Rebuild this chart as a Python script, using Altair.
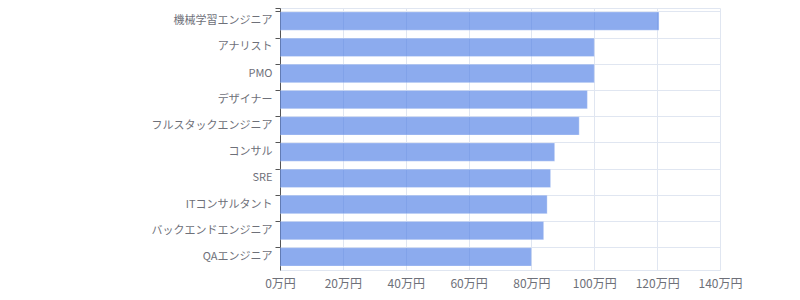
import altair as alt
import pandas as pd

roles = ["機械学習エンジニア", "アナリスト", "PMO", "デザイナー", "フルスタックエンジニア",
         "コンサル", "SRE", "ITコンサルタント", "バックエンドエンジニア", "QAエンジニア"]
salaries = [120.6, 100, 100, 97.8, 95.2, 87.4, 86.1, 85, 83.9, 80]
x_ticks = [0, 20, 40, 60, 80, 100, 120, 140]

df = pd.DataFrame({"role": roles, "salary": salaries})

FONT = "Noto Sans CJK JP"
GRID = "#E0E6F1"

chart = alt.Chart(df).mark_bar(
    color="#4f7fe6", opacity=0.65, stroke="#ffffff", strokeOpacity=0.3, strokeWidth=1
).encode(
    x=alt.X("salary:Q",
            scale=alt.Scale(domain=[0, 140], nice=False),
            axis=alt.Axis(values=x_ticks, labelExpr="datum.value + '万円'", title=None,
                          grid=True, gridColor=GRID, gridWidth=1,
                          domainColor=GRID, domainWidth=1, ticks=False,
                          labelOverlap=False, labelFlush=False,
                          labelFont=FONT, labelFontSize=12, labelColor="#6E7079",
                          labelPadding=8)),
    y=alt.Y("role:N", sort=None,
            scale=alt.Scale(paddingInner=0.3, paddingOuter=0.15),
            axis=alt.Axis(title=None, bandPosition=0, tickExtra=True,
                          grid=True, gridColor=GRID, gridWidth=1,
                          domainColor="#555555", domainWidth=1,
                          tickColor="#555555", tickSize=5, tickWidth=1,
                          labelFont=FONT, labelFontSize=11, labelColor="#6E7079",
                          labelFontWeight="normal", labelPadding=3)),
).properties(
    width=440, height=262,
    autosize=alt.AutoSizeParams(type="none"),
    padding={"left": 280, "top": 8, "right": 80, "bottom": 30},
).configure_view(stroke=None)

chart.save("out.html", embed_options={"renderer": "svg", "actions": False})
